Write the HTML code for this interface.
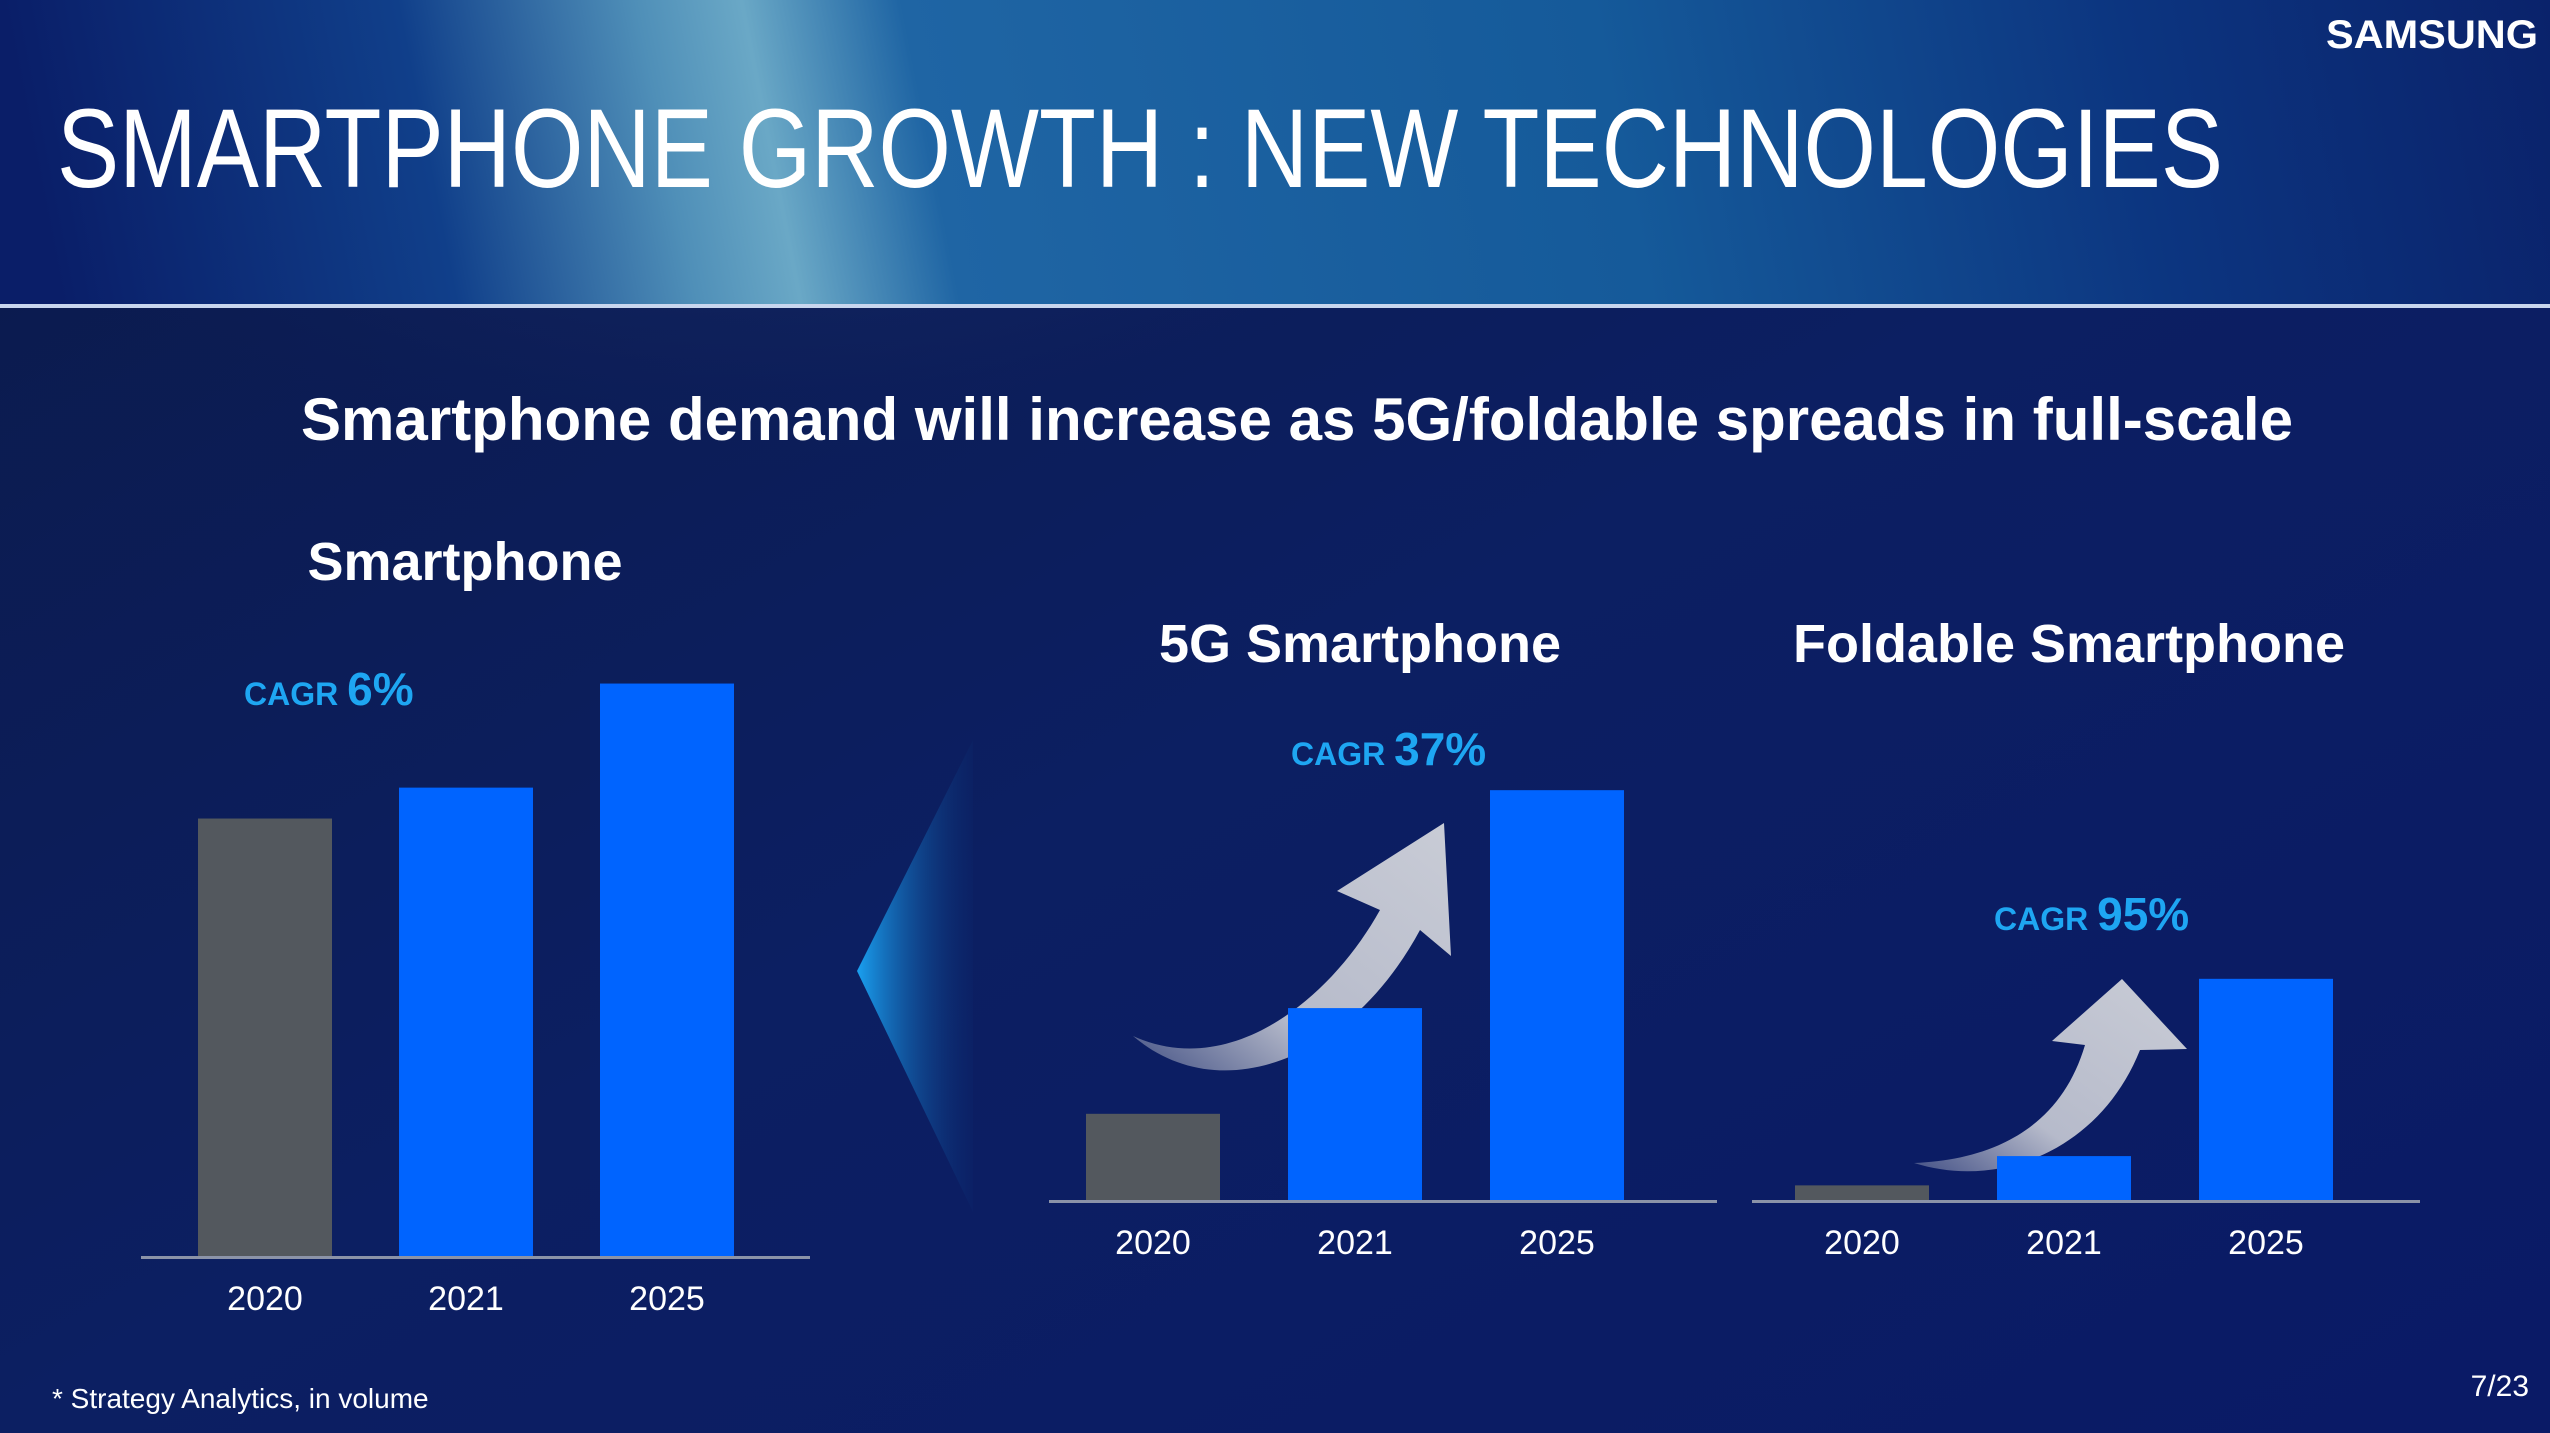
<!DOCTYPE html>
<html><head><meta charset="utf-8"><style>
html,body{margin:0;padding:0;width:2550px;height:1433px;overflow:hidden;background:#0b1a55;}
svg{display:block;font-family:"Liberation Sans","DejaVu Sans",sans-serif;}
</style></head><body>
<svg id="s" width="2550" height="1433" viewBox="0 0 2550 1433" xmlns="http://www.w3.org/2000/svg">
<defs>
<linearGradient id="bg" x1="0" y1="0" x2="1" y2="1">
<stop offset="0" stop-color="#0b1a4a"/><stop offset="0.5" stop-color="#0c1f62"/><stop offset="1" stop-color="#0a1a66"/>
</linearGradient>
<linearGradient id="hdr" gradientUnits="userSpaceOnUse" x1="0" y1="0" x2="2550" y2="-500">
<stop offset="0" stop-color="#0a1e68"/><stop offset="0.15" stop-color="#103f8a"/><stop offset="0.24" stop-color="#4f8fb8"/><stop offset="0.28" stop-color="#6aa8c6"/><stop offset="0.34" stop-color="#1f65a4"/><stop offset="0.6" stop-color="#155a9a"/><stop offset="0.8" stop-color="#0c3580"/><stop offset="1" stop-color="#0a1e66"/>
</linearGradient>
<radialGradient id="glow" cx="0.3" cy="0.0" r="0.35">
<stop offset="0" stop-color="#3d5d9a" stop-opacity="0.5"/><stop offset="1" stop-color="#0b1a55" stop-opacity="0"/>
</radialGradient>
<linearGradient id="tri" x1="0" y1="0" x2="1" y2="0">
<stop offset="0" stop-color="#1aa0f0"/><stop offset="1" stop-color="#0b2a70" stop-opacity="0.2"/>
</linearGradient>
<linearGradient id="arr1" x1="0" y1="1" x2="1" y2="0">
<stop offset="0" stop-color="#c9ccd6" stop-opacity="0.3"/><stop offset="0.35" stop-color="#c9ccd6" stop-opacity="0.9"/><stop offset="1" stop-color="#c9ccd6"/>
</linearGradient>
</defs>
<rect width="2550" height="1433" fill="url(#bg)"/>
<rect width="2550" height="1433" fill="url(#glow)"/>
<rect width="2550" height="306" fill="url(#hdr)"/>
<rect x="0" y="304" width="2550" height="4" fill="#c8d6ee"/>
<text x="2326" y="48" font-size="40" font-weight="bold" fill="#fff" textLength="212" lengthAdjust="spacingAndGlyphs">SAMSUNG</text>
<text x="57" y="187" font-size="112" fill="#fff" textLength="2166" lengthAdjust="spacingAndGlyphs">SMARTPHONE GROWTH : NEW TECHNOLOGIES</text>
<text x="301" y="440" font-size="60" font-weight="bold" fill="#fff" textLength="1992" lengthAdjust="spacingAndGlyphs">Smartphone demand will increase as 5G/foldable spreads in full-scale</text>
<text x="465" y="580" font-size="54" font-weight="bold" fill="#fff" text-anchor="middle">Smartphone</text>
<text x="1360" y="662" font-size="54" font-weight="bold" fill="#fff" text-anchor="middle">5G Smartphone</text>
<text x="2069" y="662" font-size="54" font-weight="bold" fill="#fff" text-anchor="middle">Foldable Smartphone</text>
<polygon points="857,971 973,740 973,1212" fill="url(#tri)"/>
<path d="M1133,1036 C1230,1080 1330,1000 1380,910 L1337,891 L1444,823 L1451,956 L1420,930 C1350,1060 1220,1110 1133,1036 Z" fill="url(#arr1)"/>
<path d="M1914,1163 C1990,1160 2060,1130 2085,1045 L2052,1041 L2122,979 L2187,1049 L2140,1050 C2100,1150 2000,1190 1914,1163 Z" fill="url(#arr1)"/>
<g id="charts"></g>
<text x="52" y="1408" font-size="28" fill="#fff">* Strategy Analytics, in volume</text>
<text x="2529" y="1396" font-size="30" fill="#fff" text-anchor="end">7/23</text>
</svg>
<script>
const categories = ["2020", "2021", "2025"];
const smartphoneValues = [269, 288, 352];
const g5Values = [53, 118, 252];
const foldableValues = [9, 27, 136];
const cagrLabels = ["6%", "37%", "95%"];

const NS = "http://www.w3.org/2000/svg";
const root = document.getElementById("charts");
function mk(tag, attrs, parent) {
  const e = document.createElementNS(NS, tag);
  for (const k in attrs) e.setAttribute(k, attrs[k]);
  (parent || root).appendChild(e);
  return e;
}
const charts = [
  {id:"smartphone", vals:smartphoneValues, x0:141, x1:810, base:1256, firstBar:198, step:201, cagr:[244,691], cagrLabel:cagrLabels[0]},
  {id:"5g", vals:g5Values, x0:1049, x1:1717, base:1200, firstBar:1086, step:202, cagr:[1291,751], cagrLabel:cagrLabels[1]},
  {id:"foldable", vals:foldableValues, x0:1752, x1:2420, base:1200, firstBar:1795, step:202, cagr:[1994,916], cagrLabel:cagrLabels[2]}
];
const pxPerUnit = 1.6263, barW = 134;
charts.forEach(c => {
  const g = mk("g", {});
  
  
  const y = v => c.base - v * pxPerUnit;
  c.vals.forEach((v, i) => {
    const bx = c.firstBar + i * c.step;
    const r = mk("rect", {x:bx, y:y(v), width:barW, height:c.base - y(v), fill: i === 0 ? "#53585e" : "#0064ff"}, g);
    
    
    const t = mk("text", {x:bx + barW/2, y:c.base + 54, "font-size":34, fill:"#fff", "text-anchor":"middle"}, g);
    t.textContent = categories[i];
    
    
  });
  const ax = mk("rect", {x:c.x0, y:c.base, width:c.x1 - c.x0, height:3, fill:"#8b93a8"}, g);
  
  
  const ct = mk("text", {x:c.cagr[0], y:c.cagr[1] + 14, fill:"#1ea6f2", "font-weight":"bold"}, g);
  
  
  const s1 = mk("tspan", {"font-size":32}, ct); s1.textContent = "CAGR ";
  const s2 = mk("tspan", {"font-size":46}, ct); s2.textContent = c.cagrLabel;
});
</script>
</body></html>
